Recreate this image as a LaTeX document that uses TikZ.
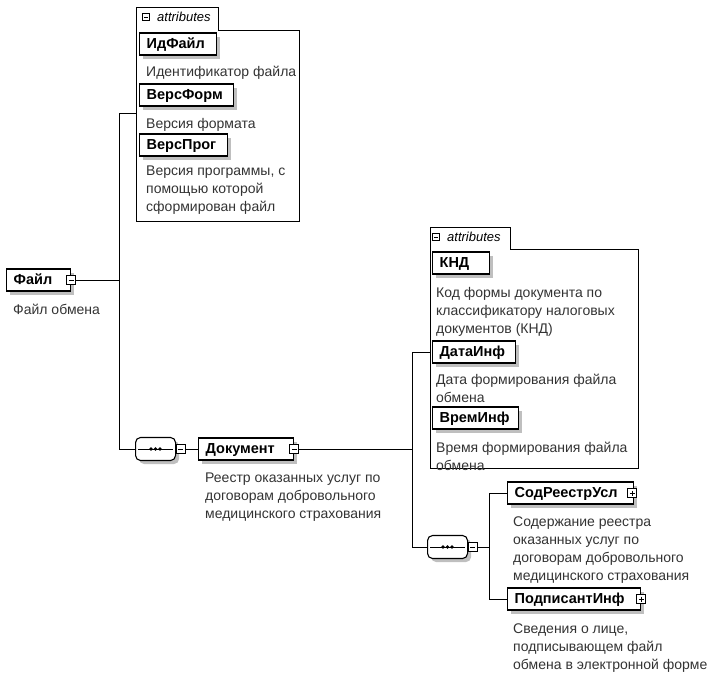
\documentclass[tikz,border=0pt]{standalone}
\usepackage{fontspec}
\setmainfont{Liberation Sans}

\tikzset{
	shade3/.style={preaction={draw=none, fill=gray!50, transform canvas={xshift=3.5pt, yshift=-3.5pt}}},
	elem/.style={draw, line width=1.3pt, fill=white, anchor=west, align=left, shade3,
		font=\bfseries\fontsize{14.5}{17}\selectfont, minimum height=22pt,
		inner xsep=7pt, inner ysep=0pt, text height=10.5pt, text depth=1pt},
	desc/.style={anchor=north west, align=left, inner sep=0pt,
		font=\fontsize{14}{18}\selectfont, text=black!80},
	minusbtn/.style={draw, fill=white, line width=0.7pt, minimum size=9pt, inner sep=0pt,
		path picture={\draw ([xshift=2pt]path picture bounding box.west) -- ([xshift=-2pt]path picture bounding box.east);}},
	plusbtn/.style={minusbtn,
		path picture={\draw ([xshift=2pt]path picture bounding box.west) -- ([xshift=-2pt]path picture bounding box.east);
			\draw ([yshift=-2pt]path picture bounding box.north) -- ([yshift=2pt]path picture bounding box.south);}},
	tabbtn/.style={minusbtn, minimum size=7.5pt, line width=0.6pt},
	tabtext/.style={anchor=west, inner sep=0pt, font=\itshape\fontsize{13}{15}\selectfont},
	seqbox/.style={draw, line width=1.1pt, rounded corners=5pt, fill=white, anchor=west, shade3,
		minimum width=40pt, minimum height=23pt, inner sep=0pt},
	seqdot/.style={fill=black},
	conn/.style={line width=0.8pt}
}

\begin{document}
\begin{tikzpicture}[x=1pt, y=-1pt]
	\useasboundingbox (0,0) rectangle (719,683);
	
	% Root element
	\node[elem, text width=50pt] (fileBox) at (6,280) {Файл};
	\node[minusbtn] (fileBtn) at (fileBox.east) {};
	\node[desc] (fileDesc) at (13,304) {Файл обмена};
	
	% Attributes of the root
	\draw[line width=0.8pt] (136,7) -- (218,7) -- (218,30) -- (299,30) -- (299,221) -- (136,221) -- cycle;
	\node[tabbtn] (tabABtn) at (146,17) {};
	\node[tabtext] (tabA) at (157,17) {attributes};
	\node[elem, text width=63pt] (idBox) at (139,44) {ИдФайл};
	\node[desc] (idDesc) at (146,66) {Идентификатор файла};
	\node[elem, text width=80pt] (verFormBox) at (139,95) {ВерсФорм};
	\node[desc] (verFormDesc) at (146,118) {Версия формата};
	\node[elem, text width=74pt] (verProgBox) at (139,145) {ВерсПрог};
	\node[desc] (verProgDesc) at (146,166) {Версия программы, с\\помощью которой\\сформирован файл};
	
	% Sequence under the root
	\node[seqbox] (seqA) at (135,449) {};
	\node[minusbtn, anchor=west] (seqABtn) at (seqA.east) {};
	\node[elem, text width=81pt] (docBox) at (198,449) {Документ};
	\node[minusbtn] (docBtn) at (docBox.east) {};
	\node[desc] (docDesc) at (205,473) {Реестр оказанных услуг по\\договорам добровольного\\медицинского страхования};
	
	% Attributes of the document
	\draw[line width=0.8pt] (430,227) -- (510,227) -- (510,249) -- (638,249) -- (638,468) -- (430,468) -- cycle;
	\node[tabbtn] (tabBBtn) at (436,237) {};
	\node[tabtext] (tabB) at (447,237) {attributes};
	\node[elem, text width=43pt] (kndBox) at (432,263) {КНД};
	\node[desc] (kndDesc) at (436,287) {Код формы документа по\\классификатору налоговых\\документов (КНД)};
	\node[elem, text width=69pt] (dateBox) at (432,352) {ДатаИнф};
	\node[desc] (dateDesc) at (436,374) {Дата формирования файла\\обмена};
	\node[elem, text width=72pt] (timeBox) at (432,418) {ВремИнф};
	\node[desc] (timeDesc) at (436,442) {Время формирования файла\\обмена};
	
	% Sequence under the document
	\node[seqbox] (seqB) at (427,547) {};
	\node[minusbtn, anchor=west] (seqBBtn) at (seqB.east) {};
	\node[elem, text width=112pt] (contBox) at (507,493) {СодРеестрУсл};
	\node[plusbtn] (contBtn) at ([xshift=-2pt]contBox.east) {};
	\node[desc] (contDesc) at (513,517) {Содержание реестра\\оказанных услуг по\\договорам добровольного\\медицинского страхования};
	\node[elem, text width=119pt] (signBox) at (507,599) {ПодписантИнф};
	\node[plusbtn] (signBtn) at (signBox.east) {};
	\node[desc] (signDesc) at (513,624) {Сведения о лице,\\подписывающем файл\\обмена в электронной форме};
	
	% Sequence symbols
	\foreach \s in {seqA,seqB} {
		\draw[line width=1pt] ([xshift=3pt]\s.west) -- ([xshift=-3pt]\s.east);
		\foreach \dx in {-4.5,0,4.5}
			\fill[seqdot] ([xshift=\dx pt]\s.center) circle[radius=1.9pt];
	}
	
	% Connectors
	\coordinate (busA) at (119,113);
	\coordinate (attrA) at (136,113);
	\draw[conn] (fileBtn.east) -- (fileBtn.east -| busA);
	\draw[conn] (attrA) -- (busA) |- (seqA.west);
	\draw[conn] (seqABtn.east) -- (docBox.west);
	
	\coordinate (busB) at (412,352);
	\coordinate (attrB) at (430,352);
	\draw[conn] (docBtn.east) -- (docBtn.east -| busB);
	\draw[conn] (attrB) -- (busB) |- (seqB.west);
	
	\coordinate (busC) at (489,493);
	\draw[conn] (seqBBtn.east) -- (seqBBtn.east -| busC);
	\draw[conn] (contBox.west) -- (busC) |- (signBox.west);
	
\end{tikzpicture}
\end{document}
